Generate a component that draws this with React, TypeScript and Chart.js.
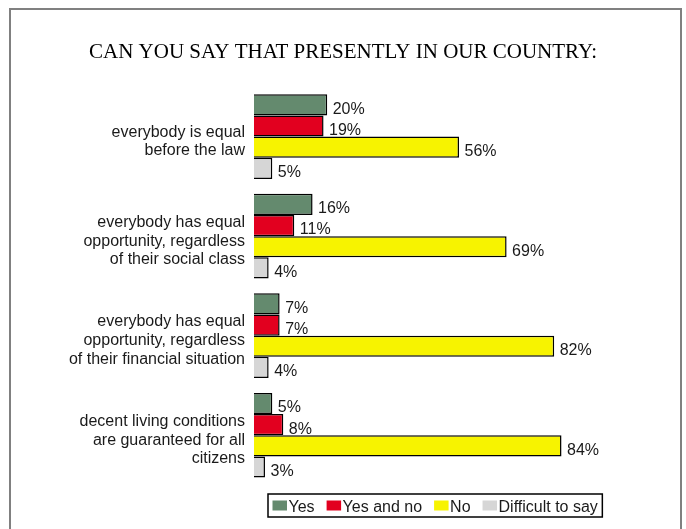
import React, { useEffect, useRef } from "react";
import { Chart, registerables } from "chart.js";

Chart.register(...registerables);

const title = "CAN YOU SAY THAT PRESENTLY IN OUR COUNTRY:";
const categories: string[][] = [
  ["everybody is equal", "before the law"],
  ["everybody has equal", "opportunity, regardless", "of their social class"],
  ["everybody has equal", "opportunity, regardless", "of their financial situation"],
  ["decent living conditions", "are guaranteed for all", "citizens"],
];
const seriesNames = ["Yes", "Yes and no", "No", "Difficult to say"];
const yesValues = [20, 16, 7, 5];
const yesAndNoValues = [19, 11, 7, 8];
const noValues = [56, 69, 82, 84];
const difficultValues = [5, 4, 4, 3];
const seriesColors = ["#648a6e", "#e2001f", "#f7f300", "#d6d6d6"];
const axisMax = 118;

const FONT = "'Liberation Sans', Arial, sans-serif";

const framePlugin = {
  id: "frame",
  beforeDraw(chart: any) {
    const ctx = chart.ctx;
    ctx.save();
    ctx.fillStyle = "#ffffff";
    ctx.fillRect(0, 0, chart.width, chart.height);
    ctx.strokeStyle = "#808080";
    ctx.lineWidth = 2;
    ctx.strokeRect(10, 9, 671, 600);
    ctx.restore();
  },
};

const valueLabelPlugin = {
  id: "valueLabels",
  afterDatasetsDraw(chart: any) {
    const ctx = chart.ctx;
    ctx.save();
    ctx.font = `16px ${FONT}`;
    ctx.fillStyle = "#1a1a1a";
    ctx.textAlign = "left";
    ctx.textBaseline = "middle";
    chart.data.datasets.forEach((ds: any, di: number) => {
      const meta = chart.getDatasetMeta(di);
      meta.data.forEach((el: any, i: number) => {
        ctx.fillText(`${ds.data[i]}%`, el.x + 5.5, el.y + 4.5);
      });
    });
    ctx.restore();
  },
};

const boxLegendPlugin = {
  id: "boxLegend",
  afterDraw(chart: any) {
    const ctx = chart.ctx;
    const area = chart.chartArea;
    const xs = chart.scales.x;
    ctx.save();
    ctx.font = `16px ${FONT}`;
    const sw = 14.5;
    const sh = 10;
    const gapText = 1.5;
    const gapItem = 12;
    const pad = 4.5;
    const items = chart.data.datasets.map((ds: any) => ({
      label: ds.label,
      color: ds.backgroundColor,
      w: ctx.measureText(ds.label).width,
    }));
    let total = pad * 2;
    items.forEach((it: any, i: number) => {
      total += sw + gapText + it.w + (i < items.length - 1 ? gapItem : 0);
    });
    const cx = (xs.getPixelForValue(0) + xs.getPixelForValue(100)) / 2 - 1.5;
    const left = Math.round(cx - total / 2);
    const top = Math.round(area.bottom + 9);
    const h = 23;
    ctx.strokeStyle = "#000";
    ctx.lineWidth = 1.5;
    ctx.strokeRect(left, top, total, h);
    let x = left + pad;
    const cy = top + h / 2;
    items.forEach((it: any) => {
      ctx.fillStyle = it.color;
      ctx.fillRect(x, cy - sh / 2, sw, sh);
      x += sw + gapText;
      ctx.fillStyle = "#1a1a1a";
      ctx.textBaseline = "middle";
      ctx.textAlign = "left";
      ctx.fillText(it.label, x, cy + 2);
      x += it.w + gapItem;
    });
    ctx.restore();
  },
};

export default function App() {
  const ref = useRef<HTMLCanvasElement | null>(null);
  useEffect(() => {
    if (!ref.current) return;
    const valueSets = [yesValues, yesAndNoValues, noValues, difficultValues];
    const chart = new Chart(ref.current, {
      type: "bar",
      data: {
        labels: categories,
        datasets: seriesNames.map((name, i) => ({
          label: name,
          data: valueSets[i],
          backgroundColor: seriesColors[i],
          borderColor: "#000000",
          borderWidth: 1.5,
          barPercentage: 1,
          categoryPercentage: 0.85,
        })),
      },
      options: {
        indexAxis: "y",
        responsive: false,
        animation: false,
        devicePixelRatio: 1,
        layout: { padding: { left: 0, right: 0, top: 0, bottom: 44 } },
        scales: {
          x: { display: false, min: 0, max: axisMax },
          y: {
            grid: { display: false, drawTicks: false },
            border: { display: false },
            ticks: {
              padding: 9,
              labelOffset: 5,
              color: "#1a1a1a",
              font: { family: FONT, size: 16, lineHeight: 1.17 },
            },
            afterFit(scale: any) {
              scale.width = 254;
            },
          },
        },
        plugins: {
          legend: { display: false },
          tooltip: { enabled: false },
          title: {
            display: true,
            text: title,
            color: "#000000",
            font: { family: "'Liberation Serif', 'Times New Roman', serif", size: 21, weight: "normal", lineHeight: 1.2 },
            padding: { top: 40, bottom: 21.6 },
          },
        },
      },
      plugins: [framePlugin, valueLabelPlugin, boxLegendPlugin],
    } as any);
    return () => chart.destroy();
  }, []);
  return (
    <div style={{ position: "fixed", left: 0, top: 0, width: 686, height: 529 }}>
      <canvas ref={ref} width={686} height={529} style={{ display: "block" }} />
    </div>
  );
}
